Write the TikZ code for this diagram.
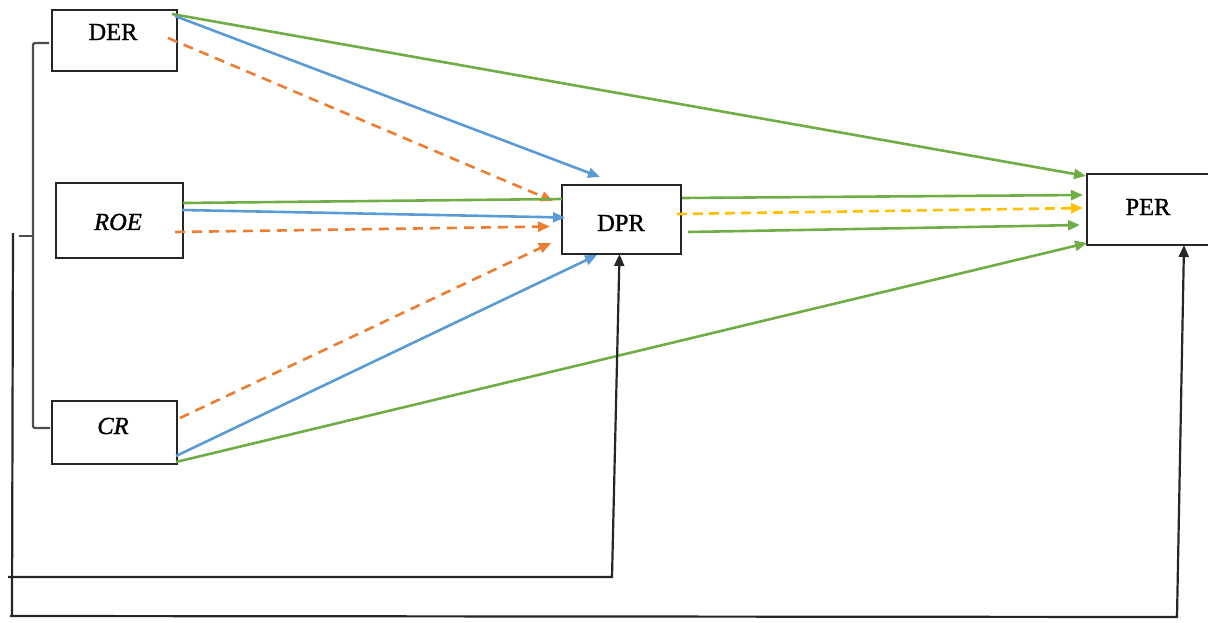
\documentclass[tikz,border=0pt]{standalone}
\usepackage{fontspec}
\setmainfont{Liberation Serif}
\usetikzlibrary{arrows.meta,calc}

\definecolor{cgreen}{HTML}{70AD47}
\definecolor{cblue}{HTML}{5B9BD5}
\definecolor{corange}{HTML}{ED7D31}
\definecolor{cyellow}{HTML}{FFC000}

\begin{document}
\begin{tikzpicture}[x=1pt,y=-1pt,
  box/.style={draw=black!85, line width=2pt, inner sep=0pt, outer sep=0pt},
  lbl/.style={inner sep=0pt, font=\fontsize{24.5}{28}\selectfont\addfontfeature{FakeBold=1.2}},
  tip/.style={-{Triangle[length=12pt,width=10pt]}},
  gline/.style={cgreen, line width=2.6pt},
  bline/.style={cblue, line width=2.6pt},
  oline/.style={corange, line width=2.6pt, dash pattern=on 10pt off 7pt},
  yline/.style={cyellow, line width=2.6pt, dash pattern=on 10pt off 6pt},
  kline/.style={black!85, line width=2.2pt},
  brace/.style={black!70, line width=2.2pt, rounded corners=2pt}
]
\useasboundingbox (0,0) rectangle (1208,622);
\clip (0,0) rectangle (1208,622);

% variable boxes
\node[box, minimum width=125pt, minimum height=61pt] (der) at (114.5,40.5) {};
\node[box, minimum width=127pt, minimum height=75pt] (roe) at (119.5,220.5) {};
\node[box, minimum width=125pt, minimum height=63pt] (cr)  at (114.5,432.5) {};
\node[box, minimum width=119pt, minimum height=69pt] (dpr) at (621.5,219.5) {};
\node[box, minimum width=125pt, minimum height=71pt] (per) at (1149.5,209.5) {};

% box labels
\node[lbl] (der-t) at (113,32)   {DER};
\node[lbl] (roe-t) at (118,222)  {\textit{ROE}};
\node[lbl] (cr-t)  at (113,426)  {\textit{CR}};
\node[lbl] (dpr-t) at (621,223)  {DPR};
\node[lbl] (per-t) at (1148,207) {PER};

% DER connectors
\draw[gline, tip] ($(der.north east)+(-5,4)$) -- ($(per.north west)+(-1,2)$);
\draw[bline, tip] ($(der.north east)+(-2,6)$) -- ($(dpr.north west)+(38,-8)$);
\draw[oline, tip] ($(der.north east)+(-9,28)$) -- ($(dpr.north west)+(-9,16)$);

% ROE connectors
\draw[gline] ($(roe.north east)+(0,20)$) -- ($(dpr.north west)+(0,14)$);
\draw[bline, tip] ($(roe.north east)+(-1,27)$) -- ($(dpr.west)+(3,-2)$);
\draw[oline, tip] ($(roe.north east)+(-8,49)$) -- ($(dpr.west)+(-12,7)$);

% CR connectors
\draw[oline, tip] ($(cr.north east)+(3,17)$) -- ($(dpr.south west)+(-11,-11)$);
\draw[bline, tip] ($(cr.south east)+(-1,-8)$) -- ($(dpr.south west)+(35,1)$);
\draw[gline, tip] ($(cr.south east)+(-1,-2)$) -- ($(per.south west)+(0,-2)$);

% DPR connectors
\draw[gline, tip] ($(dpr.north east)+(1,13)$) -- ($(per.north west)+(-4,21)$);
\draw[yline, tip] ($(dpr.north east)+(-4,29)$) -- ($(per.west)+(-4,-1.5)$);
\draw[gline, tip] ($(dpr.north east)+(7,47)$) -- ($(per.south west)+(-7,-20)$);

% bracket grouping the three ratios
\coordinate (brT) at (33,43);
\coordinate (brB) at (33,428);
\coordinate (brM) at (33,236);
\coordinate (brL) at (19,236);
\draw[brace] ($(der.west)+(-3,2.5)$) -- (brT) -- (brB) -- ($(cr.west)+(-2,-4.5)$);
\draw[brace] (brM) -- (brL);

% feedback lines into DPR and PER
\coordinate (fbTop) at (13,233);
\coordinate (fbBot) at (12,616);
\coordinate (fA0) at (8,577);
\coordinate (fA1) at (612,577);
\coordinate (fB0) at (10,616);
\coordinate (fB1) at (1177,617);
\draw[kline] (fbTop) -- (fbBot);
\draw[kline, tip] (fA0) -- (fA1) -- ($(dpr.south)+(-2,0)$);
\draw[kline, tip] (fB0) -- (fB1) -- ($(per.south west)+(97,0)$);
\end{tikzpicture}
\end{document}
